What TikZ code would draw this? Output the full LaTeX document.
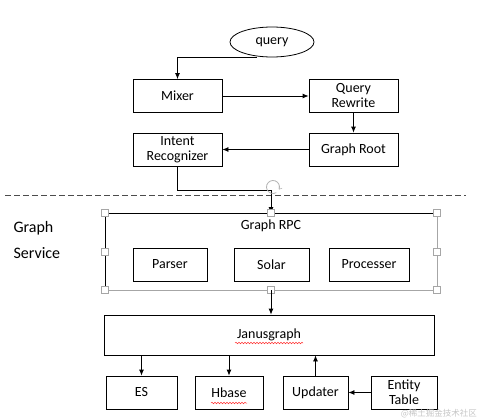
\documentclass[tikz,border=0pt]{standalone}
\usepackage{fontspec}
\setmainfont{Carlito}
\newfontfamily\cjk{Noto Sans CJK SC}
\usetikzlibrary{shapes.geometric,arrows.meta,decorations.pathmorphing}
\begin{document}
\begin{tikzpicture}[x=1pt,y=-1pt,
  every node/.style={font=\fontsize{14}{16}\selectfont},
  box/.style={draw=black,line width=0.8pt,minimum width=#1,minimum height=33pt,inner sep=0pt,align=center},
  box/.default=89pt,
  arr/.style={line width=0.8pt,-{Latex[length=6pt,width=5pt]}},
  handle/.style={draw=gray!70,fill=white,line width=0.6pt,minimum size=7pt,inner sep=0pt},
  sidelabel/.style={anchor=west,font=\fontsize{16}{18}\selectfont},
  squig/.style={draw=red!80,line width=0.5pt,decorate,decoration={snake,amplitude=0.8pt,segment length=3pt}}]
\useasboundingbox (0,0) rectangle (479,420);
% top pipeline
\node[ellipse,draw,line width=0.8pt,minimum width=84pt,minimum height=30pt,inner sep=0pt] (query) at (272,42) {query};
\node[box] (mixer) at (177.5,96) {Mixer};
\node[box] (rewrite) at (353.5,96) {Query\\[-1pt]Rewrite};
\node[box] (root) at (353.5,149.5) {Graph Root};
\node[box] (intent) at (177.5,149.5) {Intent\\[-1pt]Recognizer};
\coordinate (qs) at (257,57);
\draw[arr] (qs) -| (mixer.north);
\draw[arr] (mixer.east) -- (rewrite.west);
\draw[arr] (rewrite.south) -- (root.north);
\draw[arr] (root.west) -- (intent.west -| intent.east);
% dashed separator
\coordinate (d1) at (5,195);
\coordinate (d2) at (466,195);
\draw[line width=0.8pt,gray!60!black,dash pattern=on 6pt off 3pt] (d1) -- (d2);
% Graph service label
\node[sidelabel] (gs1) at (10,228) {Graph};
\node[sidelabel] (gs2) at (10,253) {Service};
% Graph RPC container
\coordinate (rtl) at (105,213);
\coordinate (rtr) at (437,213);
\coordinate (rbl) at (105,290);
\coordinate (rbr) at (437,290);
\draw[gray!70,line width=0.8pt] (rtr) -- (rbr) -- (rbl);
\draw[black,line width=0.8pt] (rbl) -- (rtl) -- (rtr);
\node (rpc) at (271,226) {Graph RPC};
\node[box=74pt] (parser) at (170,264.5) {Parser};
\node[box=75pt] (solar) at (271.5,264.5) {Solar};
\node[box=80pt] (proc) at (369,264.5) {Processer};
% connector Intent -> RPC
\coordinate (rpctop) at (271,213);
\coordinate (bend) at (271,190);
\draw[line width=0.8pt] (intent.south) |- (bend);
\draw[arr] (bend) -- (rpctop);
% rotate handle
\coordinate (rot) at (273,187);
\draw[gray!60,line width=0.8pt] ([shift={(-20:6.5pt)}]rot) arc[start angle=-20,end angle=300,radius=6.5pt];
\draw[gray!60,line width=0.6pt] ([shift={(-20:6.5pt)}]rot) -- ++(3,-1) ([shift={(-20:6.5pt)}]rot) -- ++(0,-3.5);
% selection handles
\foreach \p in {(105,213),(271,213),(437,213),(105,251.5),(437,251.5),(105,290),(271,290),(437,290)}
  \node[handle] at \p {};
% Janusgraph
\node[box=330pt,minimum height=40pt] (janus) at (269,335) {Janusgraph};
\coordinate (rpcbot) at (271,290);
\draw[arr] (rpcbot) -- (janus.north -| rpcbot);
\node[box=71pt] (es) at (141.5,392.5) {ES};
\node[box=68pt] (hbase) at (229,392.5) {Hbase};
\node[box=65pt] (upd) at (315.5,392.5) {Updater};
\node[box=66pt] (ent) at (404,392.5) {Entity\\[-1pt]Table};
\draw[arr] (janus.south -| es.north) -- (es.north);
\draw[arr] (janus.south -| hbase.north) -- (hbase.north);
\draw[arr] (upd.north) -- (upd.north |- janus.south);
\draw[arr] (ent.west) -- (upd.east);
% spell-check squiggles
\draw[squig] (235,343) -- (303,343);
\draw[squig] (211,403) -- (247,403);
% watermark
\node[anchor=east,text=gray!45,font=\cjk\fontsize{8.5}{9}\selectfont,inner sep=0pt] (wm) at (477,414) {@稀土掘金技术社区};
\end{tikzpicture}
\end{document}
